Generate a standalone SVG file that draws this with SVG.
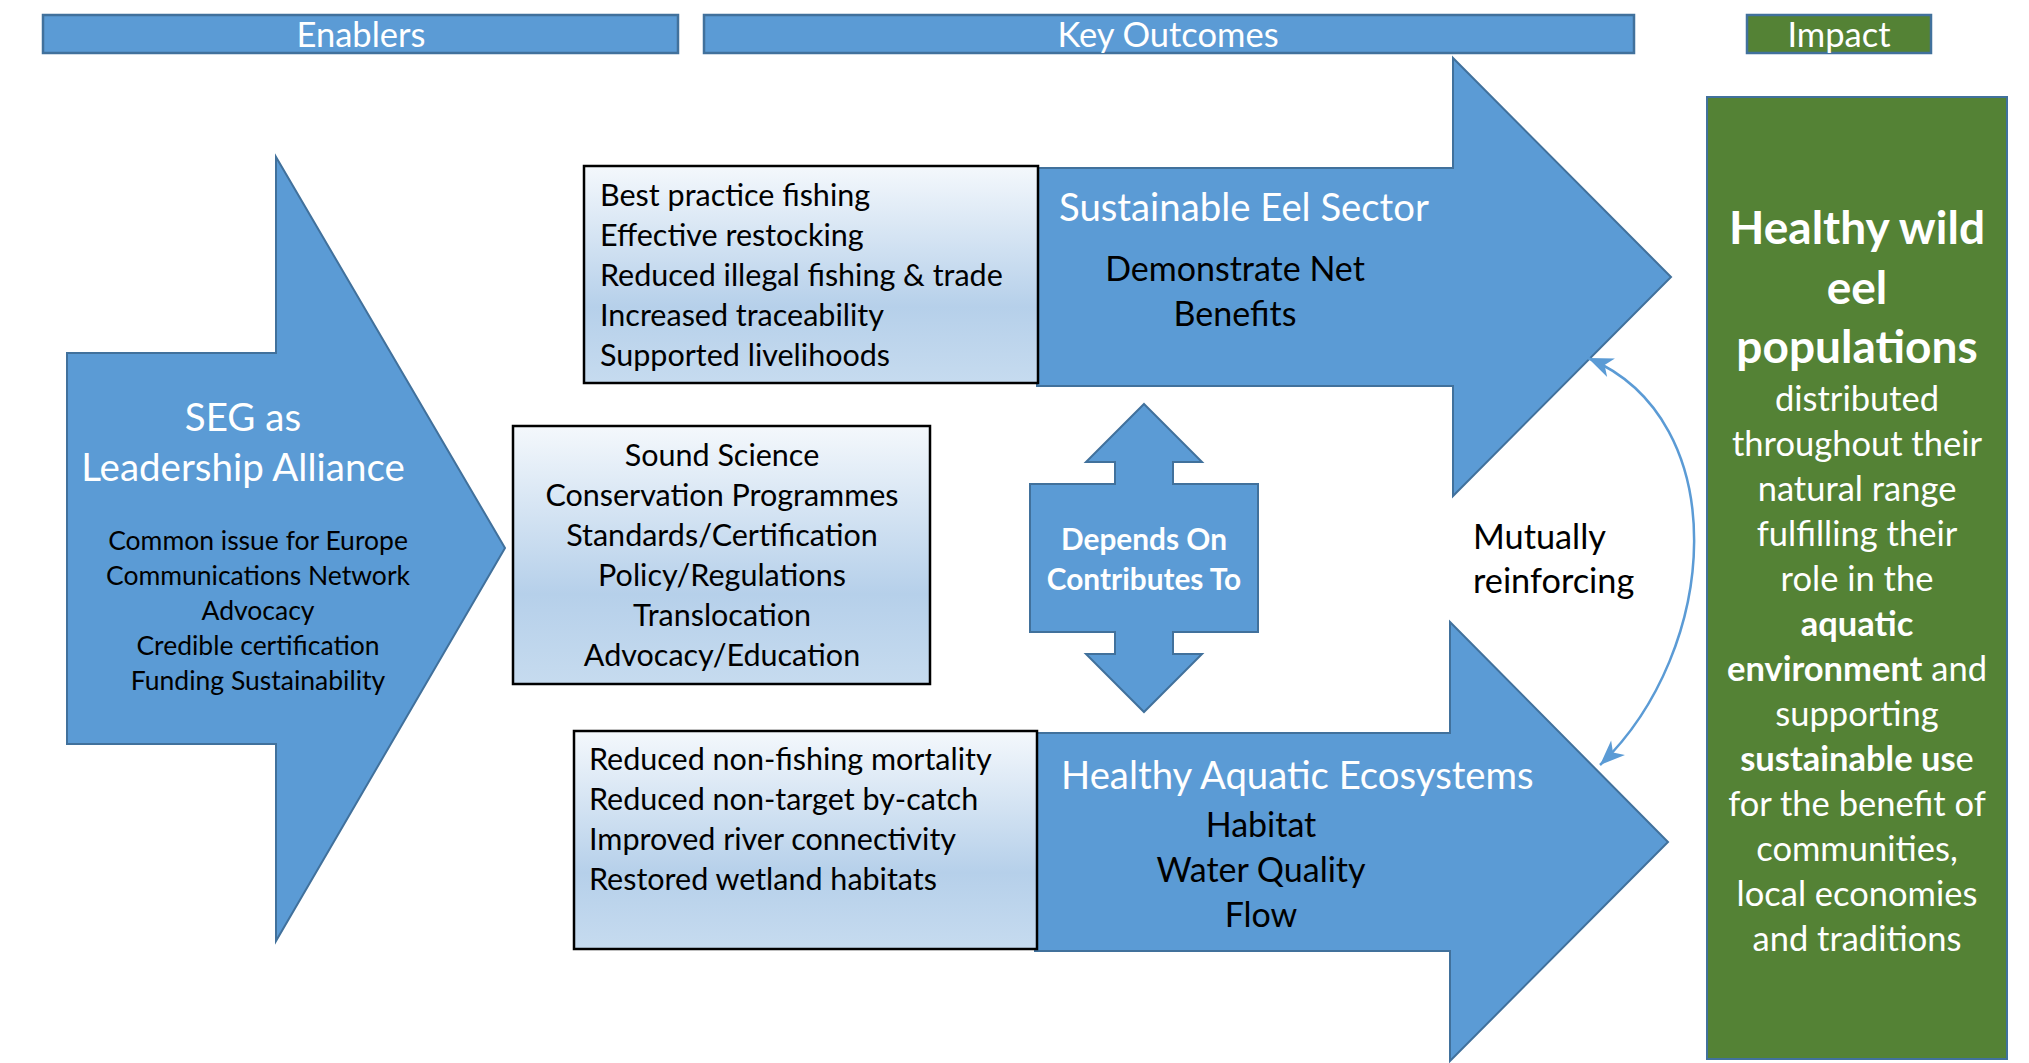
<svg xmlns="http://www.w3.org/2000/svg" width="2029" height="1063" viewBox="0 0 2029 1063">
<defs>
<linearGradient id="boxGrad" x1="0" y1="0" x2="0" y2="1">
<stop offset="0" stop-color="#f4f8fc"/>
<stop offset="0.65" stop-color="#b6d0ea"/>
<stop offset="1" stop-color="#c6dbef"/>
</linearGradient>
<marker id="head" viewBox="-26 -12 28 24" refX="0" refY="0" markerWidth="28" markerHeight="24" markerUnits="userSpaceOnUse" orient="auto-start-reverse">
<path d="M0,0 L-25,-10 L-18,0 L-25,10 Z" fill="#5b9bd5"/>
</marker>
</defs>
<style>
.bar{fill:#5b9bd5;stroke:#41719c;stroke-width:2.5}
.gbar{fill:#548235;stroke:#41719c;stroke-width:2.5}
.shape{fill:#5b9bd5;stroke:#41719c;stroke-width:2}
.box{fill:url(#boxGrad);stroke:#000;stroke-width:2.5}
text{font-family:Lato,"Open Sans","DejaVu Sans",sans-serif}
.hdr{font-size:34.5px;fill:#fff;text-anchor:middle}
.bt{font-size:30.5px;fill:#000}
.btc{font-size:30.5px;fill:#000;text-anchor:middle}
.wt{font-size:38.3px;fill:#fff}
.sub{font-size:34px;fill:#000;text-anchor:middle}
.seg{font-size:38.5px;fill:#fff;text-anchor:middle}
.segs{font-size:26.5px;fill:#000;text-anchor:middle}
.dep{font-size:29.8px;fill:#fff;font-weight:bold;text-anchor:middle}
.mut{font-size:34.3px;fill:#000}
.gb{font-size:46px;fill:#fff;font-weight:bold;text-anchor:middle}
.gr{font-size:34.5px;fill:#fff;text-anchor:middle}
.b{font-weight:bold}
.conn{fill:none;stroke:#5b9bd5;stroke-width:2.5}
</style>

<g id="header-enablers">
<rect class="bar" x="43" y="15" width="635" height="38"/>
<text class="hdr" x="361" y="47">Enablers</text>
</g>
<g id="header-key-outcomes">
<rect class="bar" x="704" y="15" width="930" height="38"/>
<text class="hdr" x="1168" y="47">Key Outcomes</text>
</g>
<g id="header-impact">
<rect class="gbar" x="1747" y="15" width="184" height="38"/>
<text class="hdr" x="1839" y="47">Impact</text>
</g>

<g id="seg-alliance">
<polygon class="shape" points="67,353 276,353 276,157 505,548 276,941 276,744 67,744"/>
<text class="seg" x="243" y="431">SEG as</text>
<text class="seg" x="243" y="481">Leadership Alliance</text>
<text class="segs" x="258" y="550">Common issue for Europe</text>
<text class="segs" x="258" y="585">Communications Network</text>
<text class="segs" x="258" y="620">Advocacy</text>
<text class="segs" x="258" y="655">Credible certification</text>
<text class="segs" x="258" y="690">Funding Sustainability</text>
</g>

<g id="sustainable-eel-sector">
<polygon class="shape" points="1037,168 1453,168 1453,58 1671,277 1453,496 1453,386 1037,386"/>
<text class="wt" x="1059" y="221">Sustainable Eel Sector</text>
<text class="sub" x="1235" y="281">Demonstrate Net</text>
<text class="sub" x="1235" y="326">Benefits</text>
</g>

<g id="healthy-aquatic-ecosystems">
<polygon class="shape" points="1035,733 1450,733 1450,622 1668,842 1450,1061 1450,951 1035,951"/>
<text class="wt" x="1061" y="789">Healthy Aquatic Ecosystems</text>
<text class="sub" x="1261" y="837">Habitat</text>
<text class="sub" x="1261" y="882">Water Quality</text>
<text class="sub" x="1261" y="927">Flow</text>
</g>

<g id="fishing-outcomes">
<rect class="box" x="584" y="166" width="454" height="217"/>
<text class="bt" x="600" y="206">Best practice fishing</text>
<text class="bt" x="600" y="246">Effective restocking</text>
<text class="bt" x="600" y="286">Reduced illegal fishing &amp; trade</text>
<text class="bt" x="600" y="326">Increased traceability</text>
<text class="bt" x="600" y="366">Supported livelihoods</text>
</g>

<g id="enabling-activities">
<rect class="box" x="513" y="426" width="417" height="258"/>
<text class="btc" x="722" y="466">Sound Science</text>
<text class="btc" x="722" y="506">Conservation Programmes</text>
<text class="btc" x="722" y="546">Standards/Certification</text>
<text class="btc" x="722" y="586">Policy/Regulations</text>
<text class="btc" x="722" y="626">Translocation</text>
<text class="btc" x="722" y="666">Advocacy/Education</text>
</g>

<g id="ecosystem-outcomes">
<rect class="box" x="574" y="731" width="463" height="218"/>
<text class="bt" x="589" y="770">Reduced non-fishing mortality</text>
<text class="bt" x="589" y="810">Reduced non-target by-catch</text>
<text class="bt" x="589" y="850">Improved river connectivity</text>
<text class="bt" x="589" y="890">Restored wetland habitats</text>
</g>

<g id="depends-on">
<polygon class="shape" points="1144,404 1202,462 1173,462 1173,484 1258,484 1258,632 1173,632 1173,654 1202,654 1144,712 1086,654 1115,654 1115,632 1030,632 1030,484 1115,484 1115,462 1086,462"/>
<text class="dep" x="1144" y="550">Depends On</text>
<text class="dep" x="1144" y="590">Contributes To</text>
</g>

<g id="mutually-reinforcing">
<text class="mut" x="1473" y="549">Mutually</text>
<text class="mut" x="1473" y="593">reinforcing</text>
</g>

<g id="impact">
<rect x="1707" y="97" width="300" height="962" fill="#548235" stroke="#41719c" stroke-width="2"/>
<text class="gb" x="1857" y="244">Healthy wild</text>
<text class="gb" x="1857" y="304">eel</text>
<text class="gb" x="1857" y="363">populations</text>
<text class="gr" x="1857" y="411">distributed</text>
<text class="gr" x="1857" y="456">throughout their</text>
<text class="gr" x="1857" y="501">natural range</text>
<text class="gr" x="1857" y="546">fulfilling their</text>
<text class="gr" x="1857" y="591">role in the</text>
<text class="gr b" x="1857" y="636">aquatic</text>
<text class="gr" x="1857" y="681"><tspan class="b">environment</tspan> and</text>
<text class="gr" x="1857" y="726">supporting</text>
<text class="gr" x="1857" y="771"><tspan class="b">sustainable us</tspan>e</text>
<text class="gr" x="1857" y="816">for the benefit of</text>
<text class="gr" x="1857" y="861">communities,</text>
<text class="gr" x="1857" y="906">local economies</text>
<text class="gr" x="1857" y="951">and traditions</text>
</g>

<g id="connectors">
<path class="conn" d="M1588,358 C1735,420 1720,650 1600,765" marker-start="url(#head)" marker-end="url(#head)"/>
</g>
</svg>
